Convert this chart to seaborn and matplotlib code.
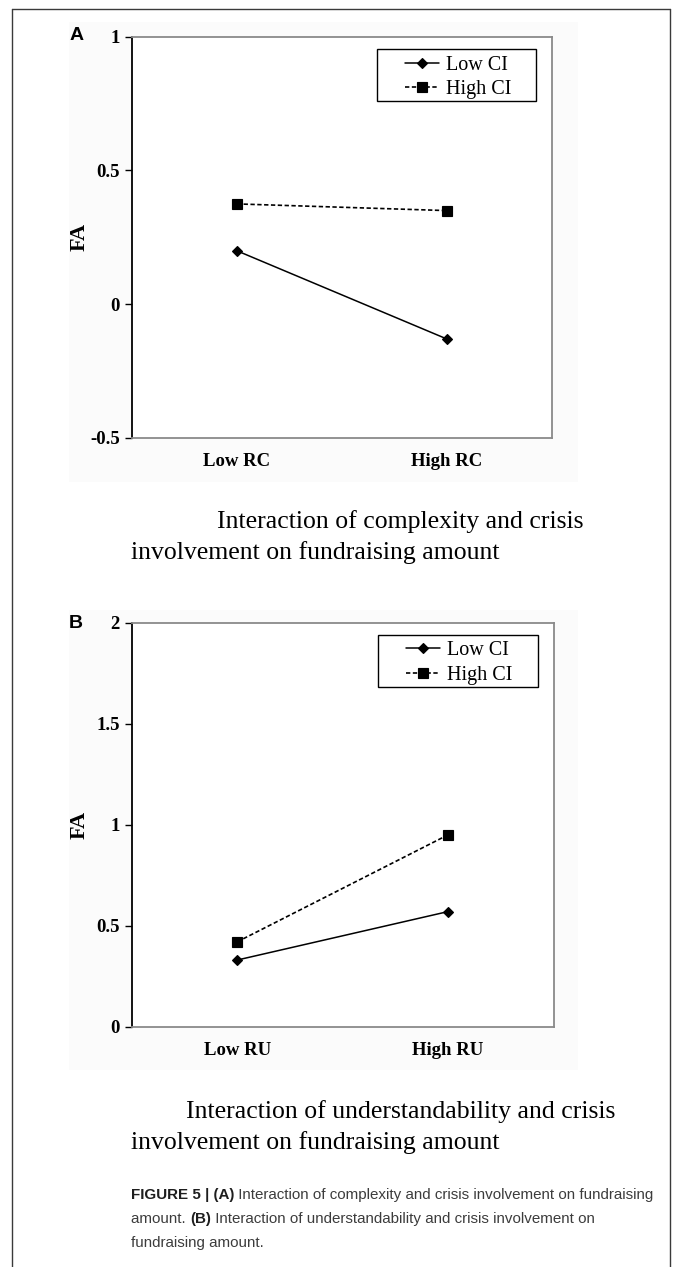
import matplotlib
matplotlib.use("Agg")
import matplotlib.pyplot as plt
from matplotlib.lines import Line2D
from matplotlib.patches import Rectangle
import seaborn as sns
import pandas as pd

# ---------------- data ----------------
levels = ["Low CI", "High CI"]
cats_a = ["Low RC", "High RC"]
low_ci_a = [0.20, -0.13]
high_ci_a = [0.375, 0.35]
yticks_a = [-0.5, 0, 0.5, 1]
yticklabels_a = ["-0.5", "0", "0.5", "1"]

cats_b = ["Low RU", "High RU"]
low_ci_b = [0.33, 0.57]
high_ci_b = [0.42, 0.95]
yticks_b = [0, 0.5, 1, 1.5, 2]
yticklabels_b = ["0", "0.5", "1", "1.5", "2"]

sub_a = ["Interaction of complexity and crisis", "involvement on fundraising amount"]
sub_b = ["Interaction of understandability and crisis", "involvement on fundraising amount"]

W, H = 676, 1267
sns.set_theme(style="white")
plt.rcParams["font.family"] = ["Liberation Serif", "DejaVu Serif"]

fig = plt.figure(figsize=(W / 100, H / 100), dpi=100)
fig.patch.set_facecolor("white")


def fx(x):
    return x / W


def fy(y):
    return 1 - y / H


def make_df(cats, low, high):
    return pd.DataFrame({
        "cond": cats + cats,
        "FA": low + high,
        "CI": [levels[0]] * len(cats) + [levels[1]] * len(cats),
    })


# faint background of embedded chart images
fig.add_artist(Rectangle((fx(69), fy(482)), fx(578) - fx(69), fy(22) - fy(482),
                         transform=fig.transFigure, facecolor="#fbfbfb", edgecolor="none", zorder=0))
fig.add_artist(Rectangle((fx(69), fy(1070)), fx(578) - fx(69), fy(610) - fy(1070),
                         transform=fig.transFigure, facecolor="#fbfbfb", edgecolor="none", zorder=0))


def panel(rect, df, cats, yticks, yticklabels, ylim, letter, letter_xy, legend_box):
    l, t, r, b = rect
    ax = fig.add_axes([fx(l), fy(b), fx(r) - fx(l), fy(t) - fy(b)])
    ax.set_facecolor("white")
    sns.pointplot(data=df, x="cond", y="FA", hue="CI", order=cats, hue_order=levels,
                  palette=["black", "black"], markers=["D", "s"], linestyles=["-", "--"],
                  errorbar=None, markersize=7, linewidth=1.1, legend=False, ax=ax)
    lines = [ln for ln in ax.lines if len(ln.get_xdata()) == len(cats)]
    lines[0].set_markersize(5.2)
    lines[1].set_linestyle((0, (2.6, 1.5)))
    lines[1].set_linewidth(1.2)
    ax.set_xlim(-0.5, 1.5)
    ax.set_ylim(*ylim)
    ax.set_yticks(yticks)
    ax.set_yticklabels(yticklabels)
    ax.set_xlabel("")
    ax.set_ylabel("FA", fontsize=16, fontweight="bold", color="black")
    ax.yaxis.set_label_coords(-0.1, 0.5)
    for lab in ax.get_xticklabels() + ax.get_yticklabels():
        lab.set_fontweight("bold")
        lab.set_fontsize(13.5)
        lab.set_color("black")
    ax.tick_params(axis="y", left=True, direction="out", length=5, width=1.0,
                   color="black", pad=3.5)
    ax.tick_params(axis="x", bottom=False, length=0, pad=11)
    for side in ["top", "right", "bottom"]:
        ax.spines[side].set_color("#8a8a8a")
        ax.spines[side].set_linewidth(1.3)
    ax.spines["left"].set_color("black")
    ax.spines["left"].set_linewidth(1.3)
    # legend
    bl, bt, br, bb = legend_box
    leg = ax.legend(handles=lines, labels=levels, loc="center",
                    bbox_to_anchor=(fx((bl + br) / 2 + 1.5), fy((bt + bb) / 2 + 2)),
                    bbox_transform=fig.transFigure, frameon=False,
                    prop={"family": "Liberation Serif", "size": 14.5},
                    handlelength=1.7, handletextpad=0.35, labelspacing=0.25,
                    borderpad=0.0, numpoints=1)
    for txt in leg.get_texts():
        txt.set_color("black")
    ax.add_patch(Rectangle((fx(bl), fy(bb)), fx(br) - fx(bl), fy(bt) - fy(bb),
                           transform=fig.transFigure, facecolor="none",
                           edgecolor="black", linewidth=1.0, clip_on=False))
    fig.text(fx(letter_xy[0]), fy(letter_xy[1]), letter, family="Liberation Sans",
             fontweight="bold", fontsize=14, ha="center", va="center", color="black")
    return ax


panel((131.7, 36.7, 552, 438), make_df(cats_a, low_ci_a, high_ci_a), cats_a,
      yticks_a, yticklabels_a, (-0.5, 1), "A", (77, 36), (377, 49.5, 536, 101))
panel((131.7, 622.7, 553.6, 1026.7), make_df(cats_b, low_ci_b, high_ci_b), cats_b,
      yticks_b, yticklabels_b, (0, 2), "B", (76, 624), (377.5, 635, 537.8, 687))

# subtitles
fig.text(fx(217), fy(522), sub_a[0], fontsize=18.5, ha="left", va="center", color="black")
fig.text(fx(131), fy(553), sub_a[1], fontsize=18.5, ha="left", va="center", color="black")
fig.text(fx(186), fy(1112), sub_b[0], fontsize=18.5, ha="left", va="center", color="black")
fig.text(fx(131), fy(1143), sub_b[1], fontsize=18.5, ha="left", va="center", color="black")

# frame lines
lc = "#3a3a3a"
fig.add_artist(Line2D([fx(12), fx(670)], [fy(9), fy(9)], transform=fig.transFigure, color=lc, lw=1.0))
fig.add_artist(Line2D([fx(12), fx(12)], [fy(9), fy(1267)], transform=fig.transFigure, color=lc, lw=1.0))
fig.add_artist(Line2D([fx(670), fx(670)], [fy(9), fy(1267)], transform=fig.transFigure, color=lc, lw=1.0))

# caption with mixed weights
caption = [
    [("FIGURE 5 | (A)", "bold"), (" Interaction of complexity and crisis involvement on fundraising", "normal")],
    [("amount. ", "normal"), ("(B)", "bold"), (" Interaction of understandability and crisis involvement on", "normal")],
    [("fundraising amount.", "normal")],
]
cap_y = [1195, 1219, 1243]
renderer = fig.canvas.get_renderer()
for segs, yy in zip(caption, cap_y):
    x = 131
    for s, wgt in segs:
        t = fig.text(fx(x), fy(yy), s, family=["Liberation Sans", "DejaVu Sans"],
                     fontsize=10.9, fontweight=wgt, ha="left", va="center",
                     color="#1e1e1e" if wgt == "bold" else "#3c3c3c")
        x += t.get_window_extent(renderer).width

fig.savefig("out.png", dpi=100)
